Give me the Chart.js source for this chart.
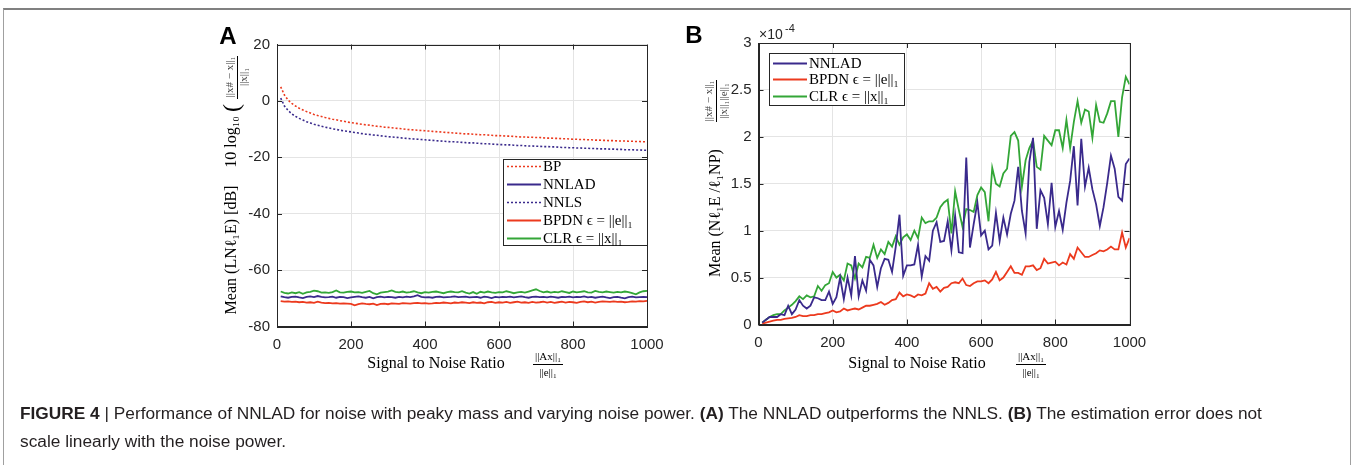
<!DOCTYPE html>
<html>
<head>
<meta charset="utf-8">
<script src="https://cdn.jsdelivr.net/npm/chart.js@4.4.0/dist/chart.umd.min.js"></script>
<style>
  body { margin: 0; background: #fff; }
  #wrap { position: relative; width: 1356px; height: 465px; overflow: hidden; font-family: "Liberation Sans", Arial, sans-serif; }
  #frame { position: absolute; left: 3px; top: 8px; width: 1348px; height: 470px; border-top: 2px solid #808080; border-left: 1px solid #a0a0a0; border-right: 1px solid #a0a0a0; box-sizing: border-box; }
  canvas { position: absolute; left: 0; top: 0; }
  #caption { position: absolute; left: 20px; top: 399px; width: 1280px; font-size: 17.3px; line-height: 28px; color: #231f20; }
</style>
</head>
<body>
<div id="wrap">
  <div id="frame"></div>
  <canvas id="chartA" width="1356" height="465"></canvas>
  <canvas id="chartB" width="1356" height="465"></canvas>
  <div id="caption"><b>FIGURE 4</b> | Performance of NNLAD for noise with peaky mass and varying noise power. <b>(A)</b> The NNLAD outperforms the NNLS. <b>(B)</b> The estimation error does not<br>scale linearly with the noise power.</div>
</div>
<script>
// signal to noise ratio ||Ax||_1 / ||e||_1
const snr = [
  10, 20, 30, 40, 50, 60, 70, 80, 90, 100,
  110, 120, 130, 140, 150, 160, 170, 180, 190, 200,
  210, 220, 230, 240, 250, 260, 270, 280, 290, 300,
  310, 320, 330, 340, 350, 360, 370, 380, 390, 400,
  410, 420, 430, 440, 450, 460, 470, 480, 490, 500,
  510, 520, 530, 540, 550, 560, 570, 580, 590, 600,
  610, 620, 630, 640, 650, 660, 670, 680, 690, 700,
  710, 720, 730, 740, 750, 760, 770, 780, 790, 800,
  810, 820, 830, 840, 850, 860, 870, 880, 890, 900,
  910, 920, 930, 940, 950, 960, 970, 980, 990, 1000
];

// panel A, dB
const bpA = [
  5.0, 2.1, 0.3, -0.9, -1.8, -2.6, -3.2, -3.8, -4.3, -4.8,
  -5.2, -5.5, -5.9, -6.2, -6.5, -6.7, -7.0, -7.2, -7.5, -7.7,
  -7.9, -8.1, -8.3, -8.5, -8.6, -8.8, -9.0, -9.1, -9.3, -9.4,
  -9.5, -9.7, -9.8, -9.9, -10.1, -10.2, -10.3, -10.4, -10.5, -10.6,
  -10.7, -10.8, -10.9, -11.0, -11.1, -11.2, -11.3, -11.4, -11.5, -11.6,
  -11.7, -11.7, -11.8, -11.9, -12.0, -12.0, -12.1, -12.2, -12.3, -12.3,
  -12.4, -12.5, -12.5, -12.6, -12.7, -12.8, -12.8, -12.9, -12.9, -13.0,
  -13.0, -13.1, -13.2, -13.2, -13.3, -13.3, -13.4, -13.4, -13.5, -13.6,
  -13.6, -13.7, -13.7, -13.8, -13.8, -13.9, -13.9, -14.0, -14.0, -14.1,
  -14.1, -14.2, -14.2, -14.2, -14.3, -14.3, -14.4, -14.4, -14.5, -14.5
];
const nnlsA = [
  1.0, -1.8, -3.4, -4.6, -5.5, -6.2, -6.8, -7.4, -7.8, -8.3,
  -8.6, -9.0, -9.3, -9.6, -9.9, -10.1, -10.4, -10.6, -10.8, -11.0,
  -11.2, -11.4, -11.6, -11.8, -11.9, -12.1, -12.2, -12.4, -12.5, -12.7,
  -12.8, -12.9, -13.0, -13.2, -13.3, -13.4, -13.5, -13.6, -13.7, -13.8,
  -13.9, -14.0, -14.1, -14.2, -14.3, -14.4, -14.5, -14.5, -14.6, -14.7,
  -14.8, -14.9, -14.9, -15.0, -15.1, -15.2, -15.2, -15.3, -15.4, -15.5,
  -15.5, -15.6, -15.6, -15.7, -15.8, -15.8, -15.9, -16.0, -16.0, -16.1,
  -16.1, -16.2, -16.2, -16.3, -16.3, -16.4, -16.5, -16.5, -16.6, -16.6,
  -16.7, -16.7, -16.8, -16.8, -16.9, -16.9, -17.0, -17.0, -17.0, -17.1,
  -17.1, -17.2, -17.2, -17.3, -17.3, -17.3, -17.4, -17.4, -17.5, -17.5
];
const nnladA = [
  -69.3, -69.6, -69.8, -69.5, -69.4, -69.7, -69.9, -69.5, -69.3, -69.6,
  -69.2, -69.5, -69.7, -69.6, -69.4, -69.8, -69.5, -69.6, -69.9, -69.7,
  -69.5, -69.3, -69.6, -69.8, -69.5, -70.0, -69.6, -69.4, -69.7, -69.5,
  -69.6, -69.8, -69.5, -69.7, -69.4, -69.6, -69.3, -68.9, -69.5, -69.7,
  -69.6, -69.8, -69.5, -69.4, -69.7, -69.6, -69.5, -69.3, -69.6, -69.5,
  -69.4, -69.7, -69.6, -69.5, -69.8, -69.4, -69.6, -69.9, -69.5, -69.7,
  -69.5, -69.6, -69.4, -69.7, -69.5, -69.3, -69.6, -69.8, -69.5, -69.4,
  -69.6, -69.5, -69.7, -69.4, -69.6, -69.8, -69.5, -69.6, -69.4, -69.7,
  -69.5, -69.6, -69.3, -69.7, -69.5, -69.8, -69.6, -69.4, -69.7, -69.9,
  -69.6, -69.5, -69.8, -70.0, -69.6, -69.4, -69.7, -69.6, -69.5, -69.6
];
const bpdnA = [
  -71.0, -71.2, -71.1, -71.3, -71.2, -71.4, -71.3, -71.5, -71.4, -71.6,
  -71.2, -71.5, -71.7, -71.6, -71.8, -71.7, -71.9, -71.8, -71.9, -72.0,
  -72.5, -72.1, -71.8, -72.0, -72.1, -71.9, -72.4, -72.0, -71.9, -72.1,
  -71.8, -71.9, -72.0, -71.7, -71.8, -71.9, -71.7, -71.6, -71.8, -71.7,
  -71.9, -71.8, -71.6, -71.7, -71.5, -71.6, -71.8, -71.5, -71.6, -71.4,
  -71.5, -71.7, -71.4, -71.6, -71.5, -71.8, -71.4, -71.3, -71.6, -71.4,
  -71.5, -71.3, -71.6, -71.4, -71.2, -71.5, -71.4, -71.6, -71.3, -71.5,
  -71.4, -71.2, -71.5, -71.3, -71.6, -71.4, -71.2, -71.5, -71.3, -71.4,
  -71.6, -71.3, -71.1, -71.4, -71.2, -71.5, -71.3, -71.1, -71.2, -71.3,
  -71.1, -71.3, -71.2, -71.4, -71.3, -71.1, -71.2, -71.0, -71.1, -70.9
];
const clrA = [
  -67.6, -68.1, -68.3, -67.9, -68.2, -67.8, -68.4, -67.9, -67.7, -67.3,
  -67.5, -68.0, -67.9, -68.1, -67.8, -67.2, -67.9, -68.0, -67.7, -67.6,
  -67.9, -67.8, -68.1, -67.7, -67.4, -68.2, -68.6, -68.0, -67.8, -67.6,
  -67.2, -67.7, -67.9, -67.6, -68.0, -67.8, -67.5, -67.9, -68.2, -67.8,
  -68.0, -67.7, -67.6, -67.9, -68.2, -67.8, -67.6, -67.8, -67.9, -67.5,
  -68.0, -68.3, -67.8, -68.4, -67.7, -68.0, -67.6, -67.9, -68.1, -67.8,
  -67.9, -67.5, -67.8, -68.2, -67.9, -67.7, -68.0, -67.6, -67.2, -66.8,
  -67.4, -67.9, -67.6, -68.0, -67.7, -67.9, -67.5, -67.8, -68.1, -67.6,
  -67.9, -67.7, -67.5, -67.9, -68.0, -67.4, -67.7, -67.9, -67.6, -67.8,
  -68.0, -67.7, -67.9, -67.6, -67.8, -68.2, -68.6, -67.9, -67.5, -67.4
];

// panel B, in units of 1e-4
const nnladB = [
  0.02, 0.05, 0.08, 0.08, 0.08, 0.11, 0.10, 0.20, 0.11, 0.16,
  0.26, 0.20, 0.17, 0.20, 0.29, 0.28, 0.26, 0.26, 0.35, 0.22,
  0.29, 0.50, 0.27, 0.50, 0.31, 0.73, 0.30, 0.47, 0.36, 0.69,
  0.63, 0.40, 0.60, 0.70, 0.69, 0.56, 0.83, 1.17, 0.52, 0.63,
  0.63, 0.64, 0.85, 0.51, 0.73, 0.68, 1.00, 1.09, 0.88, 0.89,
  1.10, 0.79, 1.16, 0.77, 0.76, 1.78, 0.82, 1.07, 1.30, 0.95,
  1.00, 0.80, 0.84, 1.19, 0.89, 1.14, 0.96, 1.18, 1.32, 1.68,
  1.21, 0.97, 1.73, 1.99, 1.02, 1.43, 1.35, 1.07, 1.51, 1.04,
  1.21, 1.01, 1.30, 1.53, 1.90, 1.27, 1.98, 1.47, 1.67, 1.44,
  1.28, 1.05, 1.25, 1.51, 1.80, 1.66, 1.36, 1.32, 1.71, 1.77
];
const bpdnB = [
  0.01, 0.02, 0.03, 0.04, 0.05, 0.05, 0.06, 0.065, 0.07, 0.08,
  0.10, 0.09, 0.09, 0.10, 0.10, 0.11, 0.11, 0.12, 0.13, 0.15,
  0.13, 0.14, 0.17, 0.15, 0.16, 0.17, 0.16, 0.18, 0.20, 0.20,
  0.21, 0.22, 0.24, 0.21, 0.23, 0.26, 0.27, 0.34, 0.30, 0.32,
  0.31, 0.29, 0.32, 0.31, 0.33, 0.44, 0.38, 0.40, 0.35, 0.39,
  0.40, 0.44, 0.45, 0.44, 0.49, 0.42, 0.41, 0.44, 0.46, 0.46,
  0.47, 0.44, 0.48, 0.56, 0.47, 0.50, 0.56, 0.62, 0.55, 0.55,
  0.53, 0.62, 0.62, 0.63, 0.58, 0.60, 0.70, 0.65, 0.66, 0.67,
  0.63, 0.66, 0.64, 0.75, 0.70, 0.82, 0.77, 0.72, 0.72, 0.74,
  0.76, 0.79, 0.78, 0.80, 0.83, 0.80, 0.80, 0.98, 0.82, 0.92
];
const clrB = [
  0.02, 0.05, 0.08, 0.10, 0.11, 0.11, 0.15, 0.18, 0.21, 0.25,
  0.30, 0.27, 0.31, 0.29, 0.30, 0.41, 0.36, 0.42, 0.44, 0.56,
  0.50, 0.53, 0.47, 0.65, 0.63, 0.49, 0.65, 0.61, 0.72, 0.71,
  0.85, 0.71, 0.80, 0.75, 0.88, 0.83, 0.94, 0.85, 0.93, 0.96,
  0.90, 1.00, 0.92, 1.14, 1.08, 1.10, 1.10, 1.14, 1.25, 1.30,
  1.33, 0.97, 1.42, 1.22, 1.04, 1.23, 1.22, 1.20, 1.38, 1.46,
  1.41, 1.10, 1.67, 1.50, 1.47, 1.61, 1.66, 2.01, 2.05, 1.96,
  1.47, 1.75, 1.88, 1.96, 1.68, 1.65, 2.01, 1.96, 1.91, 2.07,
  2.07, 1.88, 2.18, 1.88, 2.16, 2.38, 2.15, 2.29, 2.27, 1.99,
  2.34, 2.16, 2.15, 2.25, 2.38, 2.38, 2.00, 2.42, 2.64, 2.56
];

const xTicks = [0, 200, 400, 600, 800, 1000];
const yTicksA = [-80, -60, -40, -20, 0, 20];
const yTicksB = [0, 0.5, 1, 1.5, 2, 2.5, 3];

const BLUE = '#3a2a8c';
const RED = '#ec3a1e';
const GREEN = '#33a637';
const INK = '#262626';
const SERIF = '"Liberation Serif", "Times New Roman", serif';
const SANS = '"Liberation Sans", Arial, sans-serif';

function pts(ys) {
  return snr.map((x, i) => ({ x: x, y: ys[i] }));
}

// box around the plot area with MATLAB style inward ticks
const boxTicks = {
  id: 'boxTicks',
  afterDatasetsDraw(chart) {
    const { ctx, chartArea: a, scales } = chart;
    ctx.save();
    ctx.strokeStyle = INK;
    ctx.lineWidth = 1;
    ctx.strokeRect(Math.round(a.left) + 0.5, Math.round(a.top) + 0.5, Math.round(a.right - a.left), Math.round(a.bottom - a.top));
    ctx.beginPath();
    scales.x.ticks.forEach(t => {
      const px = Math.round(scales.x.getPixelForValue(t.value)) + 0.5;
      ctx.moveTo(px, a.bottom); ctx.lineTo(px, a.bottom - 5);
      ctx.moveTo(px, a.top); ctx.lineTo(px, a.top + 5);
    });
    scales.y.ticks.forEach(t => {
      const py = Math.round(scales.y.getPixelForValue(t.value)) + 0.5;
      ctx.moveTo(a.left, py); ctx.lineTo(a.left + 5, py);
      ctx.moveTo(a.right, py); ctx.lineTo(a.right - 5, py);
    });
    ctx.stroke();
    ctx.restore();
  }
};

// legend box placed inside the axes
const inLegend = {
  id: 'inLegend',
  afterDraw(chart, args, o) {
    const ctx = chart.ctx;
    ctx.save();
    ctx.fillStyle = '#fff';
    ctx.fillRect(o.x, o.y, o.w, o.h);
    ctx.strokeStyle = INK;
    ctx.lineWidth = 1;
    ctx.strokeRect(o.x + 0.5, o.y + 0.5, o.w, o.h);
    chart.data.datasets.forEach((ds, i) => {
      const cy = Math.round(o.y + o.first + i * o.rowH) + 0.5;
      ctx.strokeStyle = ds.borderColor;
      ctx.lineWidth = ds.borderWidth;
      ctx.setLineDash(ds.borderDash || []);
      ctx.beginPath();
      ctx.moveTo(o.x + 4, cy);
      ctx.lineTo(o.x + 38, cy);
      ctx.stroke();
      ctx.setLineDash([]);
      ctx.fillStyle = '#000';
      ctx.font = '15px ' + SERIF;
      ctx.textBaseline = 'middle';
      ctx.textAlign = 'left';
      ctx.fillText(ds.label, o.x + 40, cy + 1);
    });
    ctx.restore();
  }
};

// axis titles with their small fractions, panel letters
const mathTitles = {
  id: 'mathTitles',
  afterDraw(chart, args, o) {
    const ctx = chart.ctx;
    ctx.save();
    ctx.fillStyle = '#000';
    ctx.strokeStyle = '#000';
    ctx.lineWidth = 1;
    o.items.forEach(it => {
      if (it.line) {
        ctx.beginPath();
        ctx.moveTo(it.line[0], it.line[1]);
        ctx.lineTo(it.line[2], it.line[3]);
        ctx.stroke();
        return;
      }
      ctx.save();
      ctx.translate(it.x, it.y);
      if (it.rot) ctx.rotate(it.rot * Math.PI / 180);
      ctx.font = it.font;
      ctx.fillStyle = it.color || '#000';
      ctx.textAlign = it.align || 'center';
      ctx.textBaseline = 'middle';
      ctx.fillText(it.t, 0, 0);
      ctx.restore();
    });
    ctx.restore();
  }
};

function scales(xMin, xMax, xStep, yMin, yMax, yStep, yWidth, xHeight) {
  return {
    x: {
      type: 'linear', min: xMin, max: xMax,
      ticks: { stepSize: xStep, color: INK, font: { family: SANS, size: 15 }, padding: 9, maxRotation: 0, callback: v => String(v) },
      grid: { color: '#e4e4e4', drawTicks: false },
      border: { color: INK },
      afterFit: s => { s.height = xHeight; }
    },
    y: {
      min: yMin, max: yMax,
      ticks: { stepSize: yStep, color: INK, font: { family: SANS, size: 15 }, padding: 7, callback: v => String(v) },
      grid: { color: '#e4e4e4', drawTicks: false },
      border: { color: INK },
      afterFit: s => { s.width = yWidth; }
    }
  };
}

const lineDefaults = { pointRadius: 0, tension: 0, fill: false };

new Chart(document.getElementById('chartA'), {
  type: 'line',
  data: {
    datasets: [
      { label: 'BP', data: pts(bpA), borderColor: RED, borderWidth: 1.6, borderDash: [2, 2], ...lineDefaults },
      { label: 'NNLAD', data: pts(nnladA), borderColor: BLUE, borderWidth: 1.8, ...lineDefaults },
      { label: 'NNLS', data: pts(nnlsA), borderColor: BLUE, borderWidth: 1.6, borderDash: [2, 2], ...lineDefaults },
      { label: 'BPDN ϵ = ||e||₁', data: pts(bpdnA), borderColor: RED, borderWidth: 1.8, ...lineDefaults },
      { label: 'CLR ϵ = ||x||₁', data: pts(clrA), borderColor: GREEN, borderWidth: 1.8, ...lineDefaults }
    ]
  },
  options: {
    responsive: false,
    animation: false,
    devicePixelRatio: 1,
    layout: { padding: { left: 200, top: 44.5, right: 709, bottom: 65 } },
    scales: scales(xTicks[0], xTicks[xTicks.length - 1], 200, yTicksA[0], yTicksA[yTicksA.length - 1], 20, 77, 73.5),
    plugins: {
      legend: { display: false },
      tooltip: { enabled: false },
      inLegend: { x: 503, y: 159, w: 144, h: 86, first: 7, rowH: 18 },
      mathTitles: {
        items: [
          { t: 'A', x: 228, y: 37, font: 'bold 24px ' + SANS },
          { t: 'Mean (LNℓ₁E) [dB]', x: 232, y: 250, rot: -90, font: '16px ' + SERIF },
          { t: '10 log₁₀', x: 232, y: 142, rot: -90, font: '16px ' + SERIF },
          { t: '(', x: 233, y: 108, rot: -90, font: '24px ' + SERIF },
          { t: '||x# − x||₁', x: 230, y: 77, rot: -90, font: '11px ' + SERIF, color: '#444' },
          { line: [237.5, 56, 237.5, 99] },
          { t: '||x||₁', x: 244, y: 77, rot: -90, font: '11px ' + SERIF, color: '#444' },
          { t: 'Signal to Noise Ratio', x: 436, y: 364, font: '16px ' + SERIF },
          { t: '||Ax||₁', x: 548, y: 357, font: '11px ' + SERIF },
          { line: [533, 364.5, 563, 364.5] },
          { t: '||e||₁', x: 548, y: 373, font: '11px ' + SERIF }
        ]
      }
    }
  },
  plugins: [boxTicks, inLegend, mathTitles]
});

new Chart(document.getElementById('chartB'), {
  type: 'line',
  data: {
    datasets: [
      { label: 'NNLAD', data: pts(nnladB), borderColor: BLUE, borderWidth: 1.8, ...lineDefaults },
      { label: 'BPDN ϵ = ||e||₁', data: pts(bpdnB), borderColor: RED, borderWidth: 1.8, ...lineDefaults },
      { label: 'CLR ϵ = ||x||₁', data: pts(clrB), borderColor: GREEN, borderWidth: 1.8, ...lineDefaults }
    ]
  },
  options: {
    responsive: false,
    animation: false,
    devicePixelRatio: 1,
    layout: { padding: { left: 700, top: 43, right: 226.5, bottom: 65 } },
    scales: scales(xTicks[0], xTicks[xTicks.length - 1], 200, yTicksB[0], yTicksB[yTicksB.length - 1], 0.5, 58.5, 75.5),
    plugins: {
      legend: { display: false },
      tooltip: { enabled: false },
      inLegend: { x: 769, y: 53, w: 135, h: 52, first: 9.5, rowH: 16.7 },
      mathTitles: {
        items: [
          { t: 'B', x: 694, y: 36, font: 'bold 24px ' + SANS },
          { t: '×10', x: 759, y: 35, align: 'left', font: '14px ' + SANS, color: INK },
          { t: '-4', x: 785, y: 29, align: 'left', font: '11px ' + SANS, color: INK },
          { t: 'Mean (Nℓ₁E /ℓ₁NP)', x: 716, y: 213, rot: -90, font: '16px ' + SERIF },
          { t: '||x# − x||₁', x: 709, y: 101, rot: -90, font: '11px ' + SERIF, color: '#444' },
          { line: [716.5, 80, 716.5, 122] },
          { t: '||x||₁||e||₁', x: 724, y: 101, rot: -90, font: '11px ' + SERIF, color: '#444' },
          { t: 'Signal to Noise Ratio', x: 917, y: 364, font: '16px ' + SERIF },
          { t: '||Ax||₁', x: 1031, y: 357, font: '11px ' + SERIF },
          { line: [1016, 364.5, 1046, 364.5] },
          { t: '||e||₁', x: 1031, y: 373, font: '11px ' + SERIF }
        ]
      }
    }
  },
  plugins: [boxTicks, inLegend, mathTitles]
});
</script>
</body>
</html>
